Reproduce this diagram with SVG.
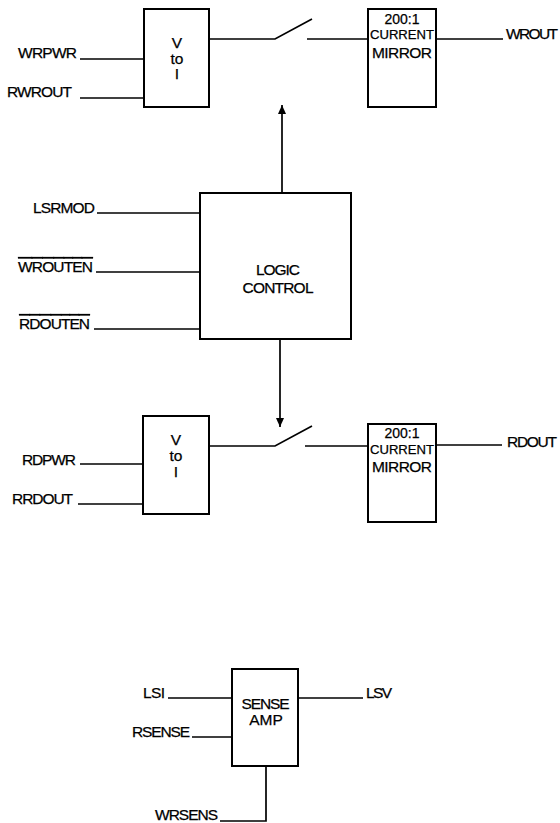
<svg xmlns="http://www.w3.org/2000/svg" width="560" height="823" viewBox="0 0 560 823">
<defs>
<style>
text{font-family:"Liberation Sans",Arial,sans-serif;font-size:15.5px;fill:#000;stroke:#000;stroke-width:0.25}
.e{text-anchor:end}
.m{text-anchor:middle}
.s{font-size:13px}
.t{font-size:14px}
.ov{text-decoration:overline}
.box{fill:#fff;stroke:#000;stroke-width:2}
.w{stroke:#000;stroke-width:1.7;fill:none}
</style>
<marker id="ah" viewBox="0 0 10 10" refX="10" refY="5" markerWidth="9" markerHeight="8" markerUnits="userSpaceOnUse" orient="auto" preserveAspectRatio="none">
<path d="M0,0 L10,5 L0,10 Z" fill="#000"/>
</marker>
</defs>
<rect width="560" height="823" fill="#fff"/>
<g id="connectors">
<line class="w" x1="80" y1="59" x2="144" y2="59"/>
<line class="w" x1="80" y1="98" x2="144" y2="98"/>
<polyline class="w" points="209,39 275,39 312,19"/>
<line class="w" x1="307" y1="39" x2="368" y2="39"/>
<line class="w" x1="436" y1="39" x2="503" y2="39"/>
<line class="w" x1="282" y1="193" x2="282" y2="105" marker-end="url(#ah)"/>
<line class="w" x1="97" y1="213" x2="200" y2="213"/>
<line class="w" x1="96" y1="272" x2="200" y2="272"/>
<line class="w" x1="94" y1="329" x2="200" y2="329"/>
<line class="w" x1="280" y1="339" x2="280" y2="427" marker-end="url(#ah)"/>
<line class="w" x1="80" y1="464" x2="143" y2="464"/>
<line class="w" x1="78" y1="504" x2="143" y2="504"/>
<polyline class="w" points="209,446 275,446 312,426"/>
<line class="w" x1="305" y1="446" x2="368" y2="446"/>
<line class="w" x1="436" y1="445" x2="502" y2="445"/>
<line class="w" x1="168" y1="698" x2="232" y2="698"/>
<line class="w" x1="298" y1="698" x2="363" y2="698"/>
<line class="w" x1="192" y1="737" x2="232" y2="737"/>
<polyline class="w" points="266,766 266,821 220,821"/>
</g>
<g id="labels">
<text class="e" x="77" y="58" textLength="59">WRPWR</text>
<text class="e" x="72" y="97" textLength="65">RWROUT</text>
<text x="506" y="39" textLength="52">WROUT</text>
<text class="e" x="95" y="213" textLength="62">LSRMOD</text>
<text class="e ov" x="93" y="272" textLength="75">WROUTEN</text>
<text class="e ov" x="90" y="329" textLength="71">RDOUTEN</text>
<text class="e" x="76" y="465" textLength="54">RDPWR</text>
<text class="e" x="73" y="504" textLength="61">RRDOUT</text>
<text x="507" y="447" textLength="50">RDOUT</text>
<text class="e" x="165" y="698" textLength="22">LSI</text>
<text x="366" y="698" textLength="26">LSV</text>
<text class="e" x="190" y="737" textLength="58">RSENSE</text>
<text class="e" x="218" y="820" textLength="63">WRSENS</text>
</g>
<g id="vtoi-write">
<rect class="box" x="144" y="9" width="65" height="98"/>
<text class="m" x="177" y="48">V</text>
<text class="m" x="177" y="63.5">to</text>
<text class="m" x="177" y="79">I</text>
</g>
<g id="mirror-write">
<rect class="box" x="368" y="9" width="68" height="98"/>
<text class="m t" x="402" y="24">200:1</text>
<text class="m s" x="402" y="39" textLength="64" lengthAdjust="spacingAndGlyphs">CURRENT</text>
<text class="m" x="402" y="58" font-size="14.5" textLength="60">MIRROR</text>
</g>
<g id="logic-control">
<rect class="box" x="200" y="193" width="151" height="146"/>
<text class="m" x="278" y="275" textLength="44">LOGIC</text>
<text class="m" x="278" y="293" textLength="71">CONTROL</text>
</g>
<g id="vtoi-read">
<rect class="box" x="143" y="416" width="66" height="98"/>
<text class="m" x="176" y="445">V</text>
<text class="m" x="176" y="461">to</text>
<text class="m" x="176" y="477">I</text>
</g>
<g id="mirror-read">
<rect class="box" x="368" y="424" width="68" height="98"/>
<text class="m t" x="402" y="438">200:1</text>
<text class="m s" x="402" y="454" textLength="64" lengthAdjust="spacingAndGlyphs">CURRENT</text>
<text class="m" x="402" y="472" font-size="14.5" textLength="60">MIRROR</text>
</g>
<g id="sense-amp">
<rect class="box" x="232" y="669" width="66" height="97"/>
<text class="m" x="265.5" y="709" textLength="48">SENSE</text>
<text class="m" x="266" y="725">AMP</text>
</g>
</svg>
